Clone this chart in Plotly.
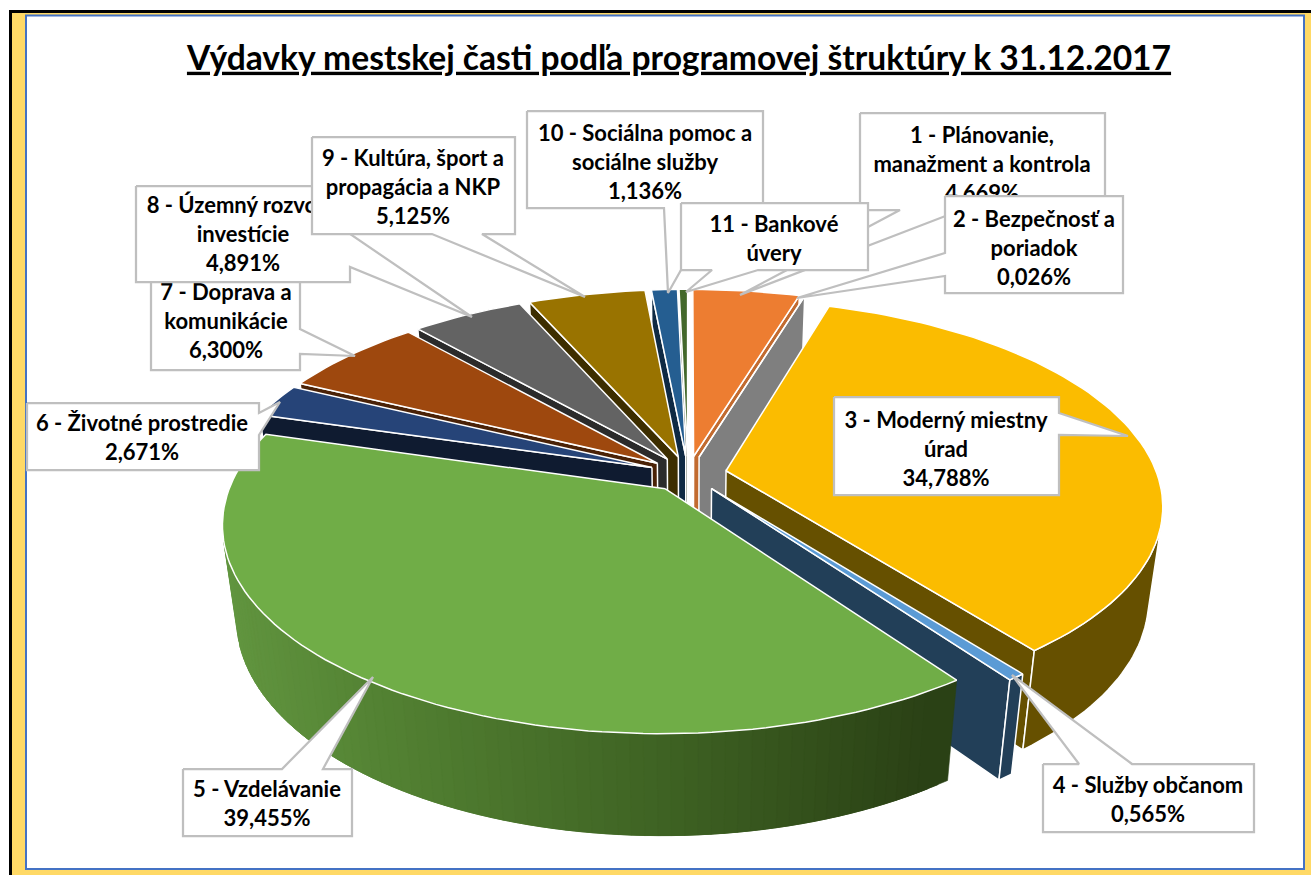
import numpy as np
import plotly.graph_objects as go

# ---- data ----
title_text = "Výdavky mestskej časti podľa programovej štruktúry k 31.12.2017"
categories = ["1 - Plánovanie, manažment a kontrola", "2 - Bezpečnosť a poriadok",
              "3 - Moderný miestny úrad", "4 - Služby občanom", "5 - Vzdelávanie",
              "6 - Životné prostredie", "7 - Doprava a komunikácie",
              "8 - Územný rozvoj a investície", "9 - Kultúra, šport a propagácia a NKP",
              "10 - Sociálna pomoc a sociálne služby", "11 - Bankové úvery"]
values = [4.669, 0.026, 34.788, 0.565, 39.455, 2.671, 6.300, 4.891, 5.125, 1.136, 0.374]
label_lines = [
    ["1 - Plánovanie,", "manažment a kontrola", "4,669%"],
    ["2 - Bezpečnosť a", "poriadok", "0,026%"],
    ["3 - Moderný miestny", "úrad", "34,788%"],
    ["4 - Služby občanom", "0,565%"],
    ["5 - Vzdelávanie", "39,455%"],
    ["6 - Životné prostredie", "2,671%"],
    ["7 - Doprava a", "komunikácie", "6,300%"],
    ["8 - Územný rozvoj a", "investície", "4,891%"],
    ["9 - Kultúra, šport a", "propagácia a NKP", "5,125%"],
    ["10 - Sociálna pomoc a", "sociálne služby", "1,136%"],
    ["11 - Bankové", "úvery"],
]

# ---- style ----
top_colors = ["#ED7D31", "#A5A5A5", "#FBBC00", "#5B9BD5", "#70AD47", "#264478",
              "#9E480E", "#636363", "#997300", "#255E91", "#43682B"]
wall_colors = ["#C26B30", "#7F7F7F", "#665000", "#223F58", "#2A4015", "#0F1B30",
               "#4A2207", "#2B2B2B", "#3D2E00", "#0F2A44", "#1B2A11"]
explode = 0.09
CX, CY, A, B, K, D, H = 688, 474, 431, 199.6, 0.163, 95, 0.03

# callout geometry: box (x0, y0, x1, y1), wedge (base1, base2, tip), text centre x, first line y
boxes = [(860, 113, 1105, 210), (945, 196, 1123, 293), (834, 397, 1059, 495), (1043, 764, 1254, 832),
         (183, 769, 352, 836), (27, 403, 259, 470), (151, 270, 300, 370), (136, 186, 350, 282),
         (312, 137, 515, 234), (527, 111, 763, 208), (681, 203, 868, 270)]
wedges = [((900, 210), (961, 210), (740, 295)), ((945, 253), (945, 276), (797, 298)),
          ((1059, 413), (1059, 435), (1128, 436)), ((1079, 764), (1132, 764), (1012, 675)),
          ((282, 769), (323, 769), (373, 677)), ((259, 413), (259, 435), (280, 402)),
          ((300, 329), (300, 354), (355, 356)), ((350, 234), (350, 267), (472, 317)),
          ((432, 234), (482, 234), (585, 297)), ((664, 208), (716, 208), (668, 293)),
          ((712, 270), (758, 270), (686, 292))]
text_pos = [(982, 137), (1034, 221), (946, 422), (1148, 787), (267, 791), (142, 425),
            (226, 294), (243, 207), (413, 160), (645, 135), (774, 226)]
LINE_PITCH = 29
FONT = "Lato, Carlito, Calibri, sans-serif"


def project(X, Y, bottom=False):
    den = 1 + K * Y + (H if bottom else 0)
    return CX + A * X / den, CY + (-B * Y + (D if bottom else 0)) / den


def area(pts):
    x = [p[0] for p in pts]
    y = [p[1] for p in pts]
    return sum(x[i] * y[(i + 1) % len(x)] - x[(i + 1) % len(x)] * y[i] for i in range(len(x)))


def poly(pts, fill, line=None, width=1.5):
    xs = [p[0] for p in pts] + [pts[0][0]]
    ys = [p[1] for p in pts] + [pts[0][1]]
    return go.Scatter(x=xs, y=ys, mode="lines", fill="toself", fillcolor=fill,
                      line=dict(color=line or fill, width=width if line else 0.6),
                      hoverinfo="skip", showlegend=False)


def mix(x):
    stops_x = [225, 420, 700, 960]
    stops = [(98, 150, 64), (82, 128, 50), (62, 98, 35), (42, 64, 21)]
    return "rgb(%d,%d,%d)" % tuple(np.interp(x, stops_x, [s[i] for s in stops]) for i in range(3))


total = sum(values)
edges = np.concatenate([[0], np.cumsum(values)]) / total * 2 * np.pi
slices = []
for i in range(len(values)):
    t0, t1 = edges[i], edges[i + 1]
    mid = (t0 + t1) / 2
    slices.append((np.cos(mid), i, t0, t1, mid))
slices.sort(key=lambda s: -s[0])

traces = []
for _, i, t0, t1, mid in slices:
    px, py = explode * np.sin(mid), explode * np.cos(mid)
    n = max(2, int((t1 - t0) / np.radians(1.5)) + 1)
    ts = np.linspace(t0, t1, n)
    rim = [(px + np.sin(t), py + np.cos(t)) for t in ts]
    top = [project(*p) for p in rim]
    bot = [project(*p, bottom=True) for p in rim]
    apex_t, apex_b = project(px, py), project(px, py, bottom=True)
    # radial walls
    for a_t, b_t, a_b, b_b in [(apex_t, top[0], apex_b, bot[0]), (top[-1], apex_t, bot[-1], apex_b)]:
        q = [a_t, b_t, b_b, a_b]
        if area(q) < 0:
            traces.append(poly(q, wall_colors[i], "white"))
    # outer rim
    vis = [j for j in range(n - 1) if area([top[j], top[j + 1], bot[j + 1], bot[j]]) < 0]
    if vis:
        if i == 4:
            # gradient rim: each band runs on under the next one, so no seams show
            for j in vis[::-1]:
                e = min(j + 3, vis[-1] + 1)
                xm = (top[j][0] + top[j + 1][0]) / 2
                traces.append(poly(top[j:e + 1] + bot[j:e + 1][::-1], mix(xm)))
        else:
            a, b = vis[0], vis[-1] + 1
            traces.append(poly(top[a:b + 1] + bot[a:b + 1][::-1], wall_colors[i], "white"))
    # top face
    traces.append(poly([apex_t] + top, top_colors[i], "white"))

# callouts, in series order so later boxes cover earlier ones
for i, lines in enumerate(label_lines):
    x0, y0, x1, y1 = boxes[i]
    b1, b2, tip = wedges[i]
    if b1[1] == b2[1] and b1[1] == y1:      # bottom edge
        pts = [(x0, y0), (x1, y0), (x1, y1), b2, tip, b1, (x0, y1)]
    elif b1[1] == b2[1]:                    # top edge
        pts = [(x0, y0), b1, tip, b2, (x1, y0), (x1, y1), (x0, y1)]
    elif b1[0] == x1:                       # right edge
        pts = [(x0, y0), (x1, y0), b1, tip, b2, (x1, y1), (x0, y1)]
    else:                                   # left edge
        pts = [(x0, y0), (x1, y0), (x1, y1), (x0, y1), b2, tip, b1]
    traces.append(poly(pts, "white", "#BFBFBF", 2.25))
    tx, ty = text_pos[i]
    traces.append(go.Scatter(x=[tx] * len(lines), y=[ty + k * LINE_PITCH for k in range(len(lines))],
                             mode="text", text=["<b>%s</b>" % s for s in lines],
                             textposition="middle center",
                             textfont=dict(family=FONT, size=22, color="black"),
                             hovertext=[categories[i]] * len(lines), hoverinfo="text", showlegend=False))

fig = go.Figure(traces)
fig.update_layout(
    width=1311, height=875, margin=dict(l=0, r=0, t=0, b=0), autosize=False,
    paper_bgcolor="white", plot_bgcolor="rgba(0,0,0,0)", showlegend=False,
    xaxis=dict(range=[0, 1311], visible=False, fixedrange=True),
    yaxis=dict(range=[875, 0], visible=False, fixedrange=True),
    title=dict(text="<b><u>%s</u></b>" % title_text, x=679 / 1311, xanchor="center",
               y=1 - 58 / 875, yanchor="middle",
               font=dict(family=FONT, size=33.6, color="black")),
    shapes=[
        dict(type="rect", layer="below", x0=9, y0=10, x1=1320, y1=885, fillcolor="black", line_width=0),
        dict(type="rect", layer="below", x0=12, y0=13, x1=1320, y1=885, fillcolor="#FFD966", line_width=0),
        dict(type="rect", layer="below", x0=26, y0=15.5, x1=1304, y1=869,
             fillcolor="white", line=dict(color="#4472C4", width=2)),
    ],
)
fig.write_html("out.html", config=dict(displayModeBar=False),
               post_script="document.body.style.margin='0';document.documentElement.style.overflow='hidden';")
